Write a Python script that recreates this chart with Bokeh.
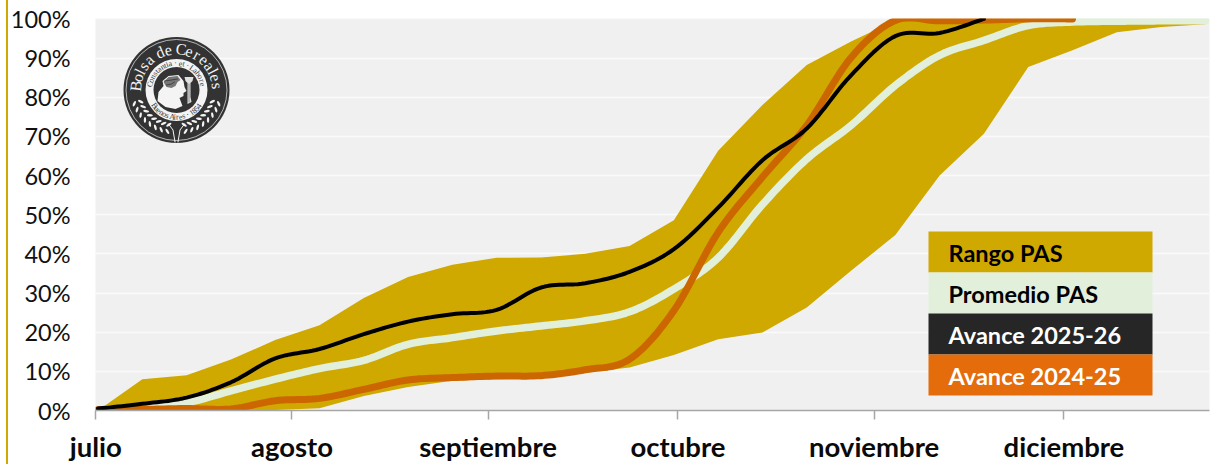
import math
from bokeh.plotting import figure
from bokeh.models import FixedTicker
from bokeh.core.properties import value
from bokeh.embed import file_html
from bokeh.resources import INLINE

# ---- data (season day, % of area) ----
week_day = [0.35 + 7 * i for i in range(26)]
rango_sup = [0, 8.0, 9.0, 13.0, 18.0, 21.8, 28.7, 34.1, 37.2, 39.0, 39.1, 40.0, 42.0, 48.6, 66.3, 78.0, 88.2,
             94.2, 99.6, 100, 100, 100, 100, 99.8, 99.6, 99.3]
rango_inf = [0, 0, 0, 0, 0.1, 0.6, 3.7, 6.0, 7.6, 8.0, 8.2, 9.7, 11.0, 14.2, 18.2, 19.9, 26.3,
             35.7, 44.8, 60.0, 70.7, 87.7, 92.0, 96.6, 97.9, 98.6]
promedio = [0.2, 0.9, 2.0, 5.0, 8.0, 10.7, 12.8, 16.9, 18.6, 20.3, 21.6, 22.9, 25.2, 31.0, 39.0, 52.6, 64.2,
            72.8, 83.0, 90.7, 94.5, 98.3, 99.2, 99.4, 99.5, 99.5]
avance_2025 = [0.5, 1.7, 3.3, 7.2, 13.3, 15.7, 19.5, 22.7, 24.6, 25.7, 31.4, 32.5, 35.4, 41.2, 51.8, 63.9, 72.0,
               85.6, 95.6, 96.4, 100]
avance_2024 = [0.2, 0.3, 0.5, 0.4, 2.5, 3.1, 5.4, 7.8, 8.4, 8.8, 8.9, 10.4, 13.1, 25.5, 45.5, 59.6, 72.8,
               90.1, 99.6, 99.5, 99.7, 100, 100]
mes_dia = [0, 31, 62, 92, 123, 153]
mes_nombre = ["julio", "agosto", "septiembre", "octubre", "noviembre", "diciembre"]
pct_ticks = list(range(0, 101, 10))
leyenda = ["Rango PAS", "Promedio PAS", "Avance 2025-26", "Avance 2024-25"]

GOLD, LIGHT, DARK, ORANGE, LINE_OR = "#CFA800", "#E2EFDA", "#262626", "#E46C0A", "#CC6600"
W, H = 1213, 464
L, R, T, B = 95, 1209, 18, 410
X0, X1 = -0.05, 176.0
Y0, Y1 = 0, 100.1
PX_X = (X1 - X0) / (R - L)
PX_Y = (Y1 - Y0) / (B - T)

def dx(px):
    return X0 + (px - L) * PX_X
def dy(py):
    return Y0 + (B - py) * PX_Y

def smooth(xs, ys, n=12):
    """Excel-like smoothed line through the read points."""
    ox, oy = [], []
    m = len(xs)
    for i in range(m - 1):
        a, b = max(i - 1, 0), min(i + 2, m - 1)
        c1 = (xs[i] + (xs[i + 1] - xs[a]) / 6, ys[i] + (ys[i + 1] - ys[a]) / 6)
        c2 = (xs[i + 1] - (xs[b] - xs[i]) / 6, ys[i + 1] - (ys[b] - ys[i]) / 6)
        for k in range(n):
            t = k / n
            u = 1 - t
            ox.append(u**3 * xs[i] + 3 * u * u * t * c1[0] + 3 * u * t * t * c2[0] + t**3 * xs[i + 1])
            oy.append(u**3 * ys[i] + 3 * u * u * t * c1[1] + 3 * u * t * t * c2[1] + t**3 * ys[i + 1])
    ox.append(xs[-1]); oy.append(ys[-1])
    return ox, oy

p = figure(width=W, height=H, frame_width=R - L, frame_height=B - T, x_range=(X0, X1), y_range=(Y0, Y1),
           output_backend="svg", toolbar_location=None,
           min_border_left=L, min_border_right=W - R, min_border_top=T, min_border_bottom=0,
           background_fill_color="#F0F0F0", border_fill_color=None, outline_line_color=None)
# gold rule down the left of the picture, seen through the transparent border fill
p.styles = {"background": f"linear-gradient({GOLD},{GOLD}) 6px 0 / 2px 100% no-repeat #FFFFFF"}

p.xgrid.visible = False
p.ygrid.ticker = FixedTicker(ticks=pct_ticks)
p.ygrid.grid_line_color = "#FAFAFA"
p.ygrid.grid_line_width = 1.5

ax = p.xaxis[0]
ax.ticker = FixedTicker(ticks=mes_dia)
ax.major_label_overrides = {d: n for d, n in zip(mes_dia, mes_nombre)}
ax.axis_line_color = "#A6A6A6"; ax.axis_line_width = 1.5
ax.major_tick_line_color = "#A6A6A6"; ax.major_tick_line_width = 1.5
ax.major_tick_in = 0; ax.major_tick_out = 9; ax.minor_tick_line_color = None
ax.major_label_text_font = "Lato"; ax.major_label_text_font_style = "bold"
ax.major_label_text_font_size = "27.5px"; ax.major_label_text_color = "#0A0A0A"
ax.major_label_standoff = 10

ay = p.yaxis[0]
ay.ticker = FixedTicker(ticks=pct_ticks)
ay.major_label_overrides = {v: f"{v}%" for v in pct_ticks}
ay.axis_line_color = None; ay.major_tick_line_color = None; ay.minor_tick_line_color = None
ay.major_tick_in = 0; ay.major_tick_out = 0
ay.major_label_text_font = "Lato"; ay.major_label_text_font_size = "23.5px"
ay.major_label_text_color = "#111111"; ay.major_label_standoff = 25

p.varea(week_day, rango_inf, rango_sup, fill_color=GOLD)
sx, sy = smooth(week_day, promedio)
p.line(sx, sy, line_color=LIGHT, line_width=7.5, line_cap="round", line_join="round")
sx, sy = smooth(week_day[:len(avance_2024)], avance_2024)
p.line(sx, sy, line_color=LINE_OR, line_width=7, line_cap="round", line_join="round")
sx, sy = smooth(week_day[:len(avance_2025)], avance_2025)
p.line(sx, sy, line_color="#000000", line_width=4, line_cap="round", line_join="round")

# legend
edges = [231, 272, 313, 354, 395]
fills = [GOLD, LIGHT, DARK, ORANGE]
txt = ["#000000", "#000000", "#FFFFFF", "#FFFFFF"]
for i, name in enumerate(leyenda):
    p.quad(left=dx(928), right=dx(1152), top=dy(edges[i]), bottom=dy(edges[i + 1]), fill_color=fills[i], line_alpha=0)
    p.text([dx(948)], [dy((edges[i] + edges[i + 1]) / 2 + 0.5)], text=[name], text_font=value("Lato"),
           text_font_style="bold", text_font_size="23.5px", text_color=txt[i], text_align="left", text_baseline="middle")

# logo
CX, CY = 176, 89.5
INK, PAPER = "#333333", "#F4F4F4"
def disc(rad, color):
    p.scatter([dx(CX)], [dy(CY)], size=2 * rad, marker="circle", fill_color=color, line_alpha=0)
def poly(points, color):
    p.patch([dx(CX + a) for a, _ in points], [dy(CY + b) for _, b in points], fill_color=color, line_alpha=0)
def stroke(points, color, w=1.0):
    p.line([dx(CX + a) for a, _ in points], [dy(CY + b) for _, b in points], line_color=color, line_width=w, line_cap="round")

disc(53, INK)
p.scatter([dx(CX)], [dy(CY)], size=101, marker="circle", fill_alpha=0, line_color="#EEEEEE", line_width=0.7)
disc(31, PAPER)
disc(23, INK)
poly([(-19, 11), (-18, 2), (-13, -4), (-14, -9), (-8, -14), (2, -15), (7, -9), (8, -3), (10, 1), (7, 3), (7, 6),
      (3, 8), (6, 16), (-1, 19), (-11, 17)], PAPER)
poly([(-13, -8), (-8, -13), (1, -14), (4, -10), (1, -8), (-1, -4), (-5, -2), (-10, -3)], "#777777")
stroke([(-12, -9), (-5, -10), (1, -11)], INK, 0.8)
stroke([(-10, -5), (-5, -6), (-2, -8)], INK, 0.8)
poly([(8, -13), (17, -13), (16, -9), (14, -7), (14, 7), (15, 12), (11, 14), (11, -7), (9, -9)], "#E0E0E0")
stroke([(12.5, -6), (12.5, 12)], "#777777", 0.8)

NARROW = set("ilt ·,.j-'")
def arc_text(s, rad, a0, a1, size, color, bottom=False):
    w = [0.55 if c in NARROW else 1.0 for c in s]
    total = sum(w)
    run = 0.0
    for ch, cw in zip(s, w):
        a = math.radians(a0 + (a1 - a0) * (run + cw / 2) / total)
        run += cw
        x, y = CX + rad * math.cos(a), CY - rad * math.sin(a)
        rot = a - math.pi / 2 if not bottom else a + math.pi / 2
        p.text([dx(x)], [dy(y)], text=[ch], angle=rot, text_font=value("Liberation Serif"), text_font_size=size,
               text_color=color, text_align="center", text_baseline="middle")

arc_text("Bolsa de Cereales", 41, 180, 0, "16px", PAPER)
arc_text("Constantia · et · Labore", 27, 172, 8, "8px", INK)
arc_text("Buenos Aires · 1854", 27, 212, 328, "8px", INK, bottom=True)

# wheat sprigs at the foot of the seal
for sgn in (-1, 1):
    pts = []
    for k in range(8):
        ang = math.radians(198 + k * 8.5)
        rr = 41 - k * 0.3
        xc, yc = sgn * rr * math.cos(ang), -rr * math.sin(ang)
        pts.append((xc, yc))
        for side in (-1, 1):
            off = 3.4 * side
            xl = xc + off * math.cos(ang) * sgn
            yl = yc - off * math.sin(ang)
            tilt = ang + side * 0.8
            p.ellipse([dx(CX + xl)], [dy(CY + yl)], width=6 * PX_X, height=2.4 * PX_Y,
                      angle=(tilt if sgn > 0 else math.pi - tilt), fill_color=PAPER, line_alpha=0)
    stroke(pts, INK, 0.7)
    stroke([(sgn * 1.5, 52), (sgn * 3.5, 40), (sgn * 8, 34)], PAPER, 1.0)

open("out.html", "w").write(file_html(p, INLINE))
